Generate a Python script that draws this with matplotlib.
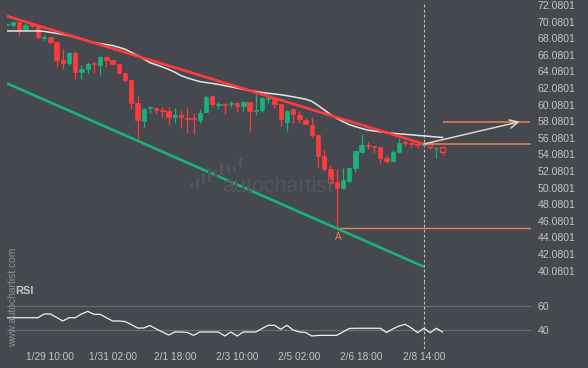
import matplotlib
matplotlib.use("Agg")
import matplotlib.pyplot as plt
from matplotlib.patches import Rectangle

plt.rcParams['font.family'] = ['Liberation Sans', 'DejaVu Sans']

# --- candles (4h) : open, high, low, close ---
opens = [69.69, 69.67, 70.03, 69.15, 69.79, 69.59, 68.15, 68.19, 67.62, 65.45,
         65.06, 66.33, 64.01, 64.37, 65.06, 64.85, 65.78, 65.45, 64.97, 63.92,
         63.04, 60.24, 58.14, 59.67, 59.67, 59.43, 59.31, 58.55, 58.86, 58.47,
         58.47, 58.22, 59.22, 61.12, 60.03, 60.15, 60.12, 60.31, 59.95, 60.43,
         59.35, 59.43, 60.75, 60.84, 60.15, 58.02, 59.51, 58.86, 58.22, 57.62,
         56.42, 53.85, 52.29, 50.72, 50.00, 50.91, 52.41, 54.41, 55.21, 55.09,
         54.97, 53.68, 53.32, 54.41, 55.54, 55.42, 55.30, 55.25, 55.42, 54.82,
         54.94]
highs = [69.85, 70.03, 70.09, 69.88, 69.91, 69.63, 68.47, 68.22, 67.66, 66.74,
         66.42, 66.50, 64.85, 65.25, 65.25, 66.06, 65.82, 65.51, 65.03, 64.01,
         63.10, 61.12, 59.67, 59.91, 59.83, 59.75, 59.75, 59.63, 59.43, 59.75,
         59.10, 59.51, 61.24, 61.24, 60.39, 60.33, 60.55, 60.39, 60.51, 60.45,
         61.36, 60.94, 61.03, 60.88, 60.21, 59.43, 59.55, 59.31, 58.43, 58.62,
         56.48, 54.61, 52.80, 52.29, 52.41, 52.50, 54.55, 56.50, 55.61, 55.15,
         55.03, 54.01, 54.61, 56.02, 55.82, 55.61, 55.49, 55.39, 55.45, 54.91,
         54.97]
lows = [69.63, 69.39, 68.38, 68.83, 69.37, 67.95, 67.74, 67.34, 64.65, 64.41,
        64.85, 63.13, 63.13, 63.73, 63.92, 63.61, 64.65, 64.85, 63.77, 62.86,
        59.51, 55.82, 57.42, 59.03, 58.91, 58.62, 57.62, 57.83, 57.22, 56.62,
        56.54, 57.90, 59.15, 59.83, 59.51, 58.91, 59.83, 59.22, 59.15, 56.82,
        58.83, 59.22, 60.24, 59.71, 57.50, 56.94, 57.83, 57.90, 57.62, 56.21,
        52.60, 52.12, 50.12, 45.18, 49.88, 50.79, 52.00, 54.21, 54.69, 54.21,
        52.92, 53.08, 53.20, 54.29, 55.09, 55.01, 54.89, 55.15, 54.69, 53.61,
        54.01]
closes = [69.79, 70.00, 69.07, 69.67, 69.55, 68.19, 68.26, 67.66, 65.45, 65.13,
          66.33, 64.01, 64.37, 65.01, 64.94, 65.85, 65.45, 64.94, 63.92, 63.04,
          60.31, 58.22, 59.51, 59.75, 59.43, 59.35, 58.62, 58.86, 58.55, 58.38,
          58.38, 59.10, 61.03, 60.15, 60.12, 60.03, 60.31, 59.95, 60.43, 59.35,
          59.43, 60.84, 60.84, 60.15, 58.31, 59.35, 58.91, 58.31, 57.71, 56.42,
          53.85, 52.29, 50.67, 50.00, 51.00, 52.41, 54.49, 55.21, 55.13, 54.97,
          53.68, 53.29, 54.41, 55.49, 55.42, 55.30, 55.21, 55.33, 54.94, 54.89,
          54.33]
# candles after the pattern end are drawn hollow
n_solid = 68

moving_avg = [68.95, 68.95, 68.95, 68.95, 68.95, 68.95, 68.90, 68.78, 68.66, 68.54,
              68.38, 68.18, 67.97, 67.77, 67.56, 67.42, 67.31, 67.19, 66.98, 66.75,
              66.38, 66.00, 65.57, 65.13, 64.88, 64.61, 64.32, 63.98, 63.56, 63.30,
              63.07, 62.85, 62.74, 62.63, 62.51, 62.37, 62.22, 62.07, 61.92, 61.79,
              61.67, 61.54, 61.44, 61.36, 61.27, 61.15, 61.02, 60.88, 60.73, 60.48,
              59.98, 59.44, 58.90, 58.42, 58.04, 57.67, 57.43, 57.21, 57.01, 56.91,
              56.81, 56.72, 56.63, 56.56, 56.50, 56.44, 56.37, 56.31, 56.25, 56.18,
              56.12]

rsi = [50.5, 50.5, 50.5, 50.5, 50.5, 50.5, 53.6, 53.6, 50.7, 47.75,
       50.5, 50.5, 53.6, 55.8, 53.3, 53.3, 50.5, 47.75, 47.75, 47.3,
       44.8, 41.9, 41.9, 44.0, 41.1, 38.6, 36.1, 38.6, 38.6, 38.2,
       35.8, 38.6, 38.6, 38.6, 38.6, 35.25, 38.6, 35.25, 38.6, 38.6,
       38.6, 41.5, 44.2, 44.2, 40.8, 44.2, 40.25, 38.6, 38.2, 35.25,
       35.7, 35.8, 35.8, 35.8, 38.6, 41.5, 41.7, 41.7, 41.7, 41.7,
       41.7, 38.2, 41.1, 43.6, 45.0, 41.9, 38.0, 41.7, 38.0, 41.7,
       38.6]

# channel lines (index, price)
resist_x = [0, 67]
resist_y = [70.75, 55.33]
support_x = [0, 67]
support_y = [62.65, 40.55]
point_a = (53, 45.18)
breakout_idx = 67
breakout_price = 55.33
target_price = 58.02
target_idx = [70, 84.05]
arrow_end_idx = 82.4

price_ticks = [72.0801 - 2 * k for k in range(17)]
time_idx = [7, 17, 27, 37, 47, 57, 67]
time_labels = ['1/29 10:00', '1/31 02:00', '2/1 18:00', '2/3 10:00',
               '2/5 02:00', '2/6 18:00', '2/8 14:00']

# logo bars of the watermark (pixel rows)
logo_tops = [183.3, 178.3, 173.3, 168.3, 170.0, 163.3, 165.0, 166.7, 158.3]
logo_bottoms = [188.3, 189.3, 183.3, 181.7, 176.7, 175.0, 173.3, 171.7, 166.7]

BG = '#45484e'
RED = '#ff3b3b'
GREEN = '#1ab27c'
ORANGE = '#f2814a'
TXT = '#c3c5c8'

W, H = 588, 368
fig = plt.figure(figsize=(W / 100, H / 100), dpi=100, facecolor=BG)

def px_box(x0, y0, x1, y1):
    return [x0 / W, 1 - y1 / H, (x1 - x0) / W, (y1 - y0) / H]

ax = fig.add_axes(px_box(6.7, 2, 531, 282))
rs = fig.add_axes(px_box(6.7, 282, 531, 349), sharex=ax)
for a in (ax, rs):
    a.set_facecolor('none')
    for s in a.spines.values():
        s.set_visible(False)
    a.tick_params(length=0, colors=TXT, labelsize=7.3)

# watermark
lax = fig.add_axes(px_box(186, 150, 246, 195))
lax.set_xlim(186, 246)
lax.set_ylim(195, 150)
lax.axis('off')
for k, (t, b) in enumerate(zip(logo_tops, logo_bottoms)):
    lax.add_patch(Rectangle((190.2 + k * 6.05, t), 3, b - t, color='#53565c', lw=0))
fig.text(222 / W, 1 - 192 / H, 'autochartist', color='#53565c', fontsize=15.5,
         ha='left', va='baseline')

# candles
body_w = 0.7
for i in range(len(opens)):
    o, h, l, c = opens[i], highs[i], lows[i], closes[i]
    col = GREEN if c >= o else RED
    ax.vlines(i, l, h, color=col, lw=0.9, zorder=2)
    lo, hi = min(o, c), max(o, c)
    hgt = max(hi - lo, 0.08)
    if i < n_solid:
        ax.add_patch(Rectangle((i - body_w / 2, lo), body_w, hgt, facecolor=col,
                               edgecolor=col, lw=0.5, zorder=3))
    else:
        ax.add_patch(Rectangle((i - body_w / 2, lo), body_w, hgt, facecolor=BG,
                               edgecolor=col, lw=1.0, zorder=3))

ax.plot(range(len(moving_avg)), moving_avg, color='#e4e4e4', lw=1.1, zorder=4)
ax.plot(resist_x, resist_y, color=RED, lw=1.9, zorder=5, solid_capstyle='butt')
ax.plot(support_x, support_y, color=GREEN, lw=1.9, zorder=5, solid_capstyle='butt')

ax.hlines(point_a[1], point_a[0], 84.3, color=ORANGE, lw=1.0, zorder=4)
ax.hlines(breakout_price, breakout_idx, 84.3, color=ORANGE, lw=1.1, zorder=4)
ax.hlines(target_price, target_idx[0], target_idx[1], color=ORANGE, lw=1.1, zorder=4)
ax.annotate('', xy=(arrow_end_idx, target_price), xytext=(breakout_idx, breakout_price),
            arrowprops=dict(arrowstyle='->,head_length=0.6,head_width=0.3',
                            color='#d6d6d6', lw=1.1, shrinkA=0, shrinkB=0), zorder=6)
ax.annotate('A', xy=point_a, xytext=(1.5, -3), textcoords='offset points',
            color=ORANGE, fontsize=7.3, ha='center', va='top')

ax.set_xlim(-0.016, 84.21)
ax.set_ylim(38.71, 72.44)
ax.yaxis.tick_right()
ax.set_yticks(price_ticks)
ax.set_yticklabels([f'{v:.4f}' for v in price_ticks])
ax.tick_params(axis='y', pad=5, labelsize=7.6)
ax.tick_params(axis='x', labelbottom=False)

# RSI panel
rs.plot(range(len(rsi)), rsi, color='#f0f0f0', lw=0.9, zorder=3)
for lvl in (60, 40):
    rs.axhline(lvl, color='#6a6d72', lw=0.9, zorder=1)
rs.set_ylim(24.42, 80.25)
rs.yaxis.tick_right()
rs.set_yticks([60, 40])
rs.set_yticklabels(['60', '40'])
rs.tick_params(axis='y', pad=5, labelsize=7.6)
rs.set_xticks(time_idx)
rs.set_xticklabels(time_labels)
rs.tick_params(axis='x', pad=2, labelsize=7.3)
rs.text(15 / W, 1 - 291 / H, 'RSI', transform=fig.transFigure, color=TXT,
        fontsize=8, fontweight='bold', ha='left', va='center')

for a in (ax, rs):
    a.axvline(breakout_idx, color='#c4c4c4', lw=0.8, dashes=(2.5, 2), zorder=1)

fig.text(13.3 / W, 1 - 297 / H, 'www.autochartist.com', rotation=90, color='#8c8f94',
         fontsize=7.4, ha='center', va='center')

fig.savefig('out.png', dpi=100, facecolor=BG)
